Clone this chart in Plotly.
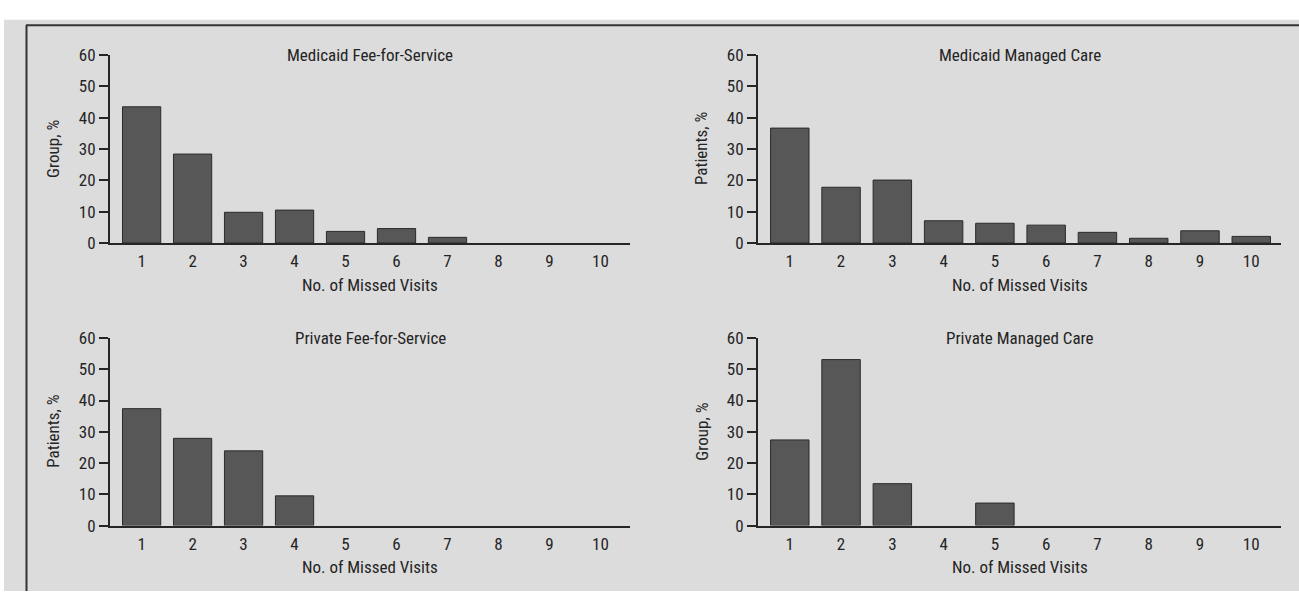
import plotly.graph_objects as go

# ---------------- data ----------------
visits = [1, 2, 3, 4, 5, 6, 7, 8, 9, 10]
tick_labels = ["1", "2", "3", "4", "5", "6", "7", "8", "9", "10"]
medicaid_ffs = [43.5, 28.4, 9.8, 10.5, 3.7, 4.6, 1.8, 0, 0, 0]
medicaid_mc = [36.7, 17.8, 20.1, 7.1, 6.3, 5.7, 3.4, 1.5, 3.9, 2.1]
private_ffs = [37.4, 27.9, 23.9, 9.5, 0, 0, 0, 0, 0, 0]
private_mc = [27.4, 53.1, 13.4, 0, 7.2, 0, 0, 0, 0, 0]
panel_titles = ["Medicaid Fee-for-Service", "Medicaid Managed Care",
                "Private Fee-for-Service", "Private Managed Care"]
y_titles = ["Group, %", "Patients, %", "Patients, %", "Group, %"]
x_title = "No. of Missed Visits"
y_ticks = [0, 10, 20, 30, 40, 50, 60]

W, H = 1299, 601
FONT = "Liberation Sans Narrow, Roboto Condensed, Arial Narrow, Roboto, sans-serif"
TXT = "#242424"
AX = "#262626"
BAR = "#575757"
BAR_LINE = "#2b2b2b"
BG = "#dcdcdc"

def px(x):
    return x / W

def py(y):
    return 1 - y / H

# panel boxes in pixels: (x0, x1, ytop, ybottom)
boxes = [
    (110, 630, 46.7, 241),
    (758, 1281, 46.7, 241),
    (110, 630, 339.3, 533.3),
    (758, 1281, 339.3, 533.3),
]
series = [medicaid_ffs, medicaid_mc, private_ffs, private_mc]
ytitle_x = [53, 701, 53, 702]

fig = go.Figure()
layout = dict(
    width=W, height=H, autosize=False,
    margin=dict(l=0, r=0, t=0, b=0),
    paper_bgcolor="white", plot_bgcolor="rgba(0,0,0,0)",
    showlegend=False,
    font=dict(family=FONT, size=17, color=TXT),
)
annotations = []
for i, (vals, box) in enumerate(zip(series, boxes)):
    n = "" if i == 0 else str(i + 1)
    x0, x1, yt, yb = box
    fig.add_trace(go.Bar(
        x=visits, y=vals, xaxis="x" + n, yaxis="y" + n,
        width=0.75,
        marker=dict(color=BAR,
                    line=dict(color=BAR_LINE, width=[1 if v > 0 else 0 for v in vals])),
        hoverinfo="x+y",
    ))
    layout["xaxis" + n] = dict(
        domain=[px(x0), px(x1)], anchor="y" + n,
        range=[0.38, 10.58], tickmode="array", tickvals=visits, ticktext=tick_labels,
        showline=True, linecolor=AX, linewidth=2,
        ticks="outside", ticklen=2, tickcolor="rgba(0,0,0,0)",
        showgrid=False, zeroline=False,
        tickfont=dict(family=FONT, size=17, color=TXT),
    )
    layout["yaxis" + n] = dict(
        domain=[py(yb), py(yt)], anchor="x" + n,
        range=[0, 60], tickmode="array", tickvals=y_ticks,
        showline=True, linecolor=AX, linewidth=2,
        ticks="outside", ticklen=9, tickwidth=2, tickcolor=AX,
        showgrid=False, zeroline=False,
        tickfont=dict(family=FONT, size=17, color=TXT),
    )
    annotations.append(dict(
        text=panel_titles[i], x=px((x0 + x1) / 2), y=py(yt),
        xref="paper", yref="paper", xanchor="center", yanchor="middle",
        showarrow=False, font=dict(family=FONT, size=17, color=TXT),
    ))
    annotations.append(dict(
        text=x_title, x=px((x0 + x1) / 2), y=py(yb + 43),
        xref="paper", yref="paper", xanchor="center", yanchor="middle",
        showarrow=False, font=dict(family=FONT, size=17, color=TXT),
    ))
    annotations.append(dict(
        text=y_titles[i], x=px(ytitle_x[i]), y=py((yt + yb) / 2),
        xref="paper", yref="paper", xanchor="center", yanchor="middle",
        textangle=-90, showarrow=False, font=dict(family=FONT, size=17, color=TXT),
    ))

layout["annotations"] = annotations
layout["shapes"] = [
    dict(type="rect", xref="paper", yref="paper", x0=px(4), x1=1, y0=0, y1=py(10),
         fillcolor=BG, line=dict(width=0), layer="below"),
    dict(type="line", xref="paper", yref="paper", x0=px(26), x1=1, y0=py(15.7), y1=py(15.7),
         line=dict(color="#333333", width=2), layer="below"),
    dict(type="line", xref="paper", yref="paper", x0=px(26.5), x1=px(26.5), y0=0, y1=py(15.7),
         line=dict(color="#333333", width=2), layer="below"),
]
fig.update_layout(**layout)
fig.write_html(
    "out.html",
    config={"displayModeBar": False},
    post_script="document.body.style.margin='0';document.body.style.padding='0';"
                "document.body.style.overflow='hidden';",
)
